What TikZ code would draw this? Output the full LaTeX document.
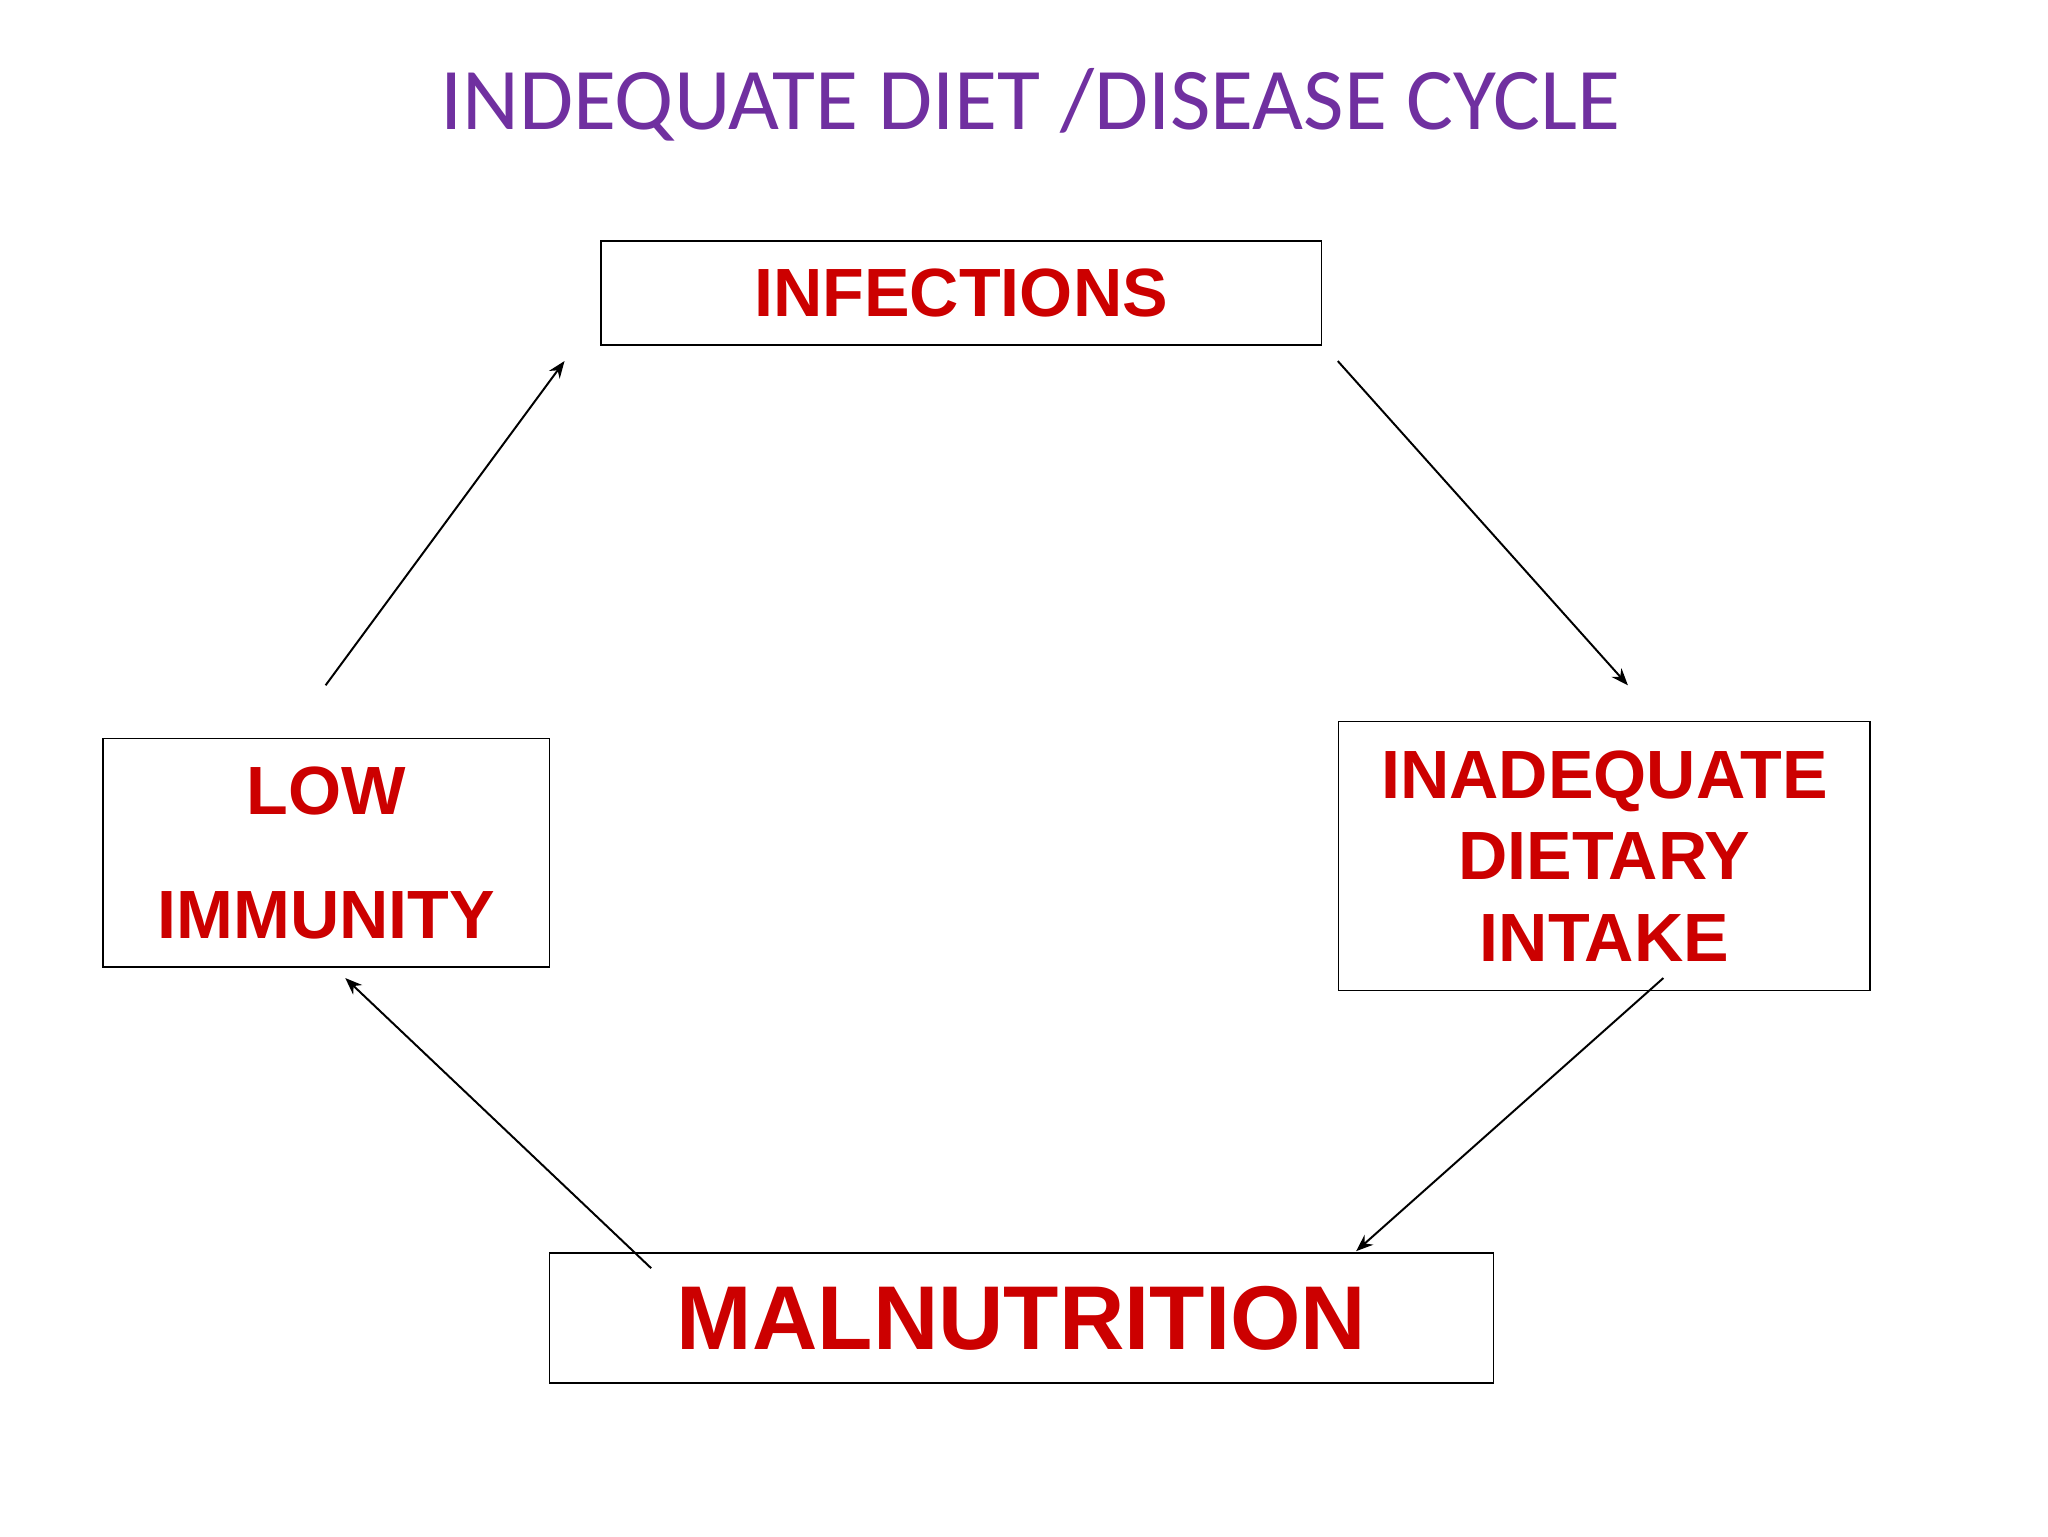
\documentclass[tikz,border=0pt]{standalone}
\usepackage{fontspec}
\setmainfont{Liberation Sans}
\newfontfamily\titlefont{Carlito}
\usetikzlibrary{arrows.meta}
\definecolor{boxred}{HTML}{CC0000}
\definecolor{titlepurple}{HTML}{7030A0}
\begin{document}
\begin{tikzpicture}[x=1pt,y=-1pt,
  box/.style={draw=black,line width=1.2pt,fill=white,inner sep=0pt,anchor=north west,
    text=boxred,font=\bfseries\fontsize{52}{62}\selectfont,align=center},
  arr/.style={line width=1.5pt,-{Stealth[length=13pt,width=10pt]}}]
\useasboundingbox[fill=white] (0,0) rectangle (1560,1170);
\node[text=titlepurple,font=\titlefont\fontsize{67}{80}\selectfont] (title) at (785,80) {INDEQUATE DIET /DISEASE CYCLE};
\node[box,minimum width=549pt,minimum height=79pt] (inf) at (457,183) {INFECTIONS};
\node[box,minimum width=340pt,minimum height=174pt,font=\bfseries\fontsize{52}{94}\selectfont] (low) at (78,562) {LOW\\IMMUNITY};
\node[box,minimum width=405pt,minimum height=205pt] (ina) at (1019,549) {INADEQUATE\\DIETARY\\INTAKE};
\node[box,minimum width=719pt,minimum height=99pt,font=\bfseries\fontsize{69}{80}\selectfont] (mal) at (418,954) {MALNUTRITION};
\coordinate (a1) at (248,522); \coordinate (b1) at (430,275);
\coordinate (a2) at (1019,275); \coordinate (b2) at (1240,522);
\coordinate (a3) at (1267,745); \coordinate (b3) at (1033,953);
\coordinate (a4) at (496,966); \coordinate (b4) at (263,745);
\draw[arr] (a1) -- (b1);
\draw[arr] (a2) -- (b2);
\draw[arr] (a3) -- (b3);
\draw[arr] (a4) -- (b4);
\end{tikzpicture}
\end{document}
